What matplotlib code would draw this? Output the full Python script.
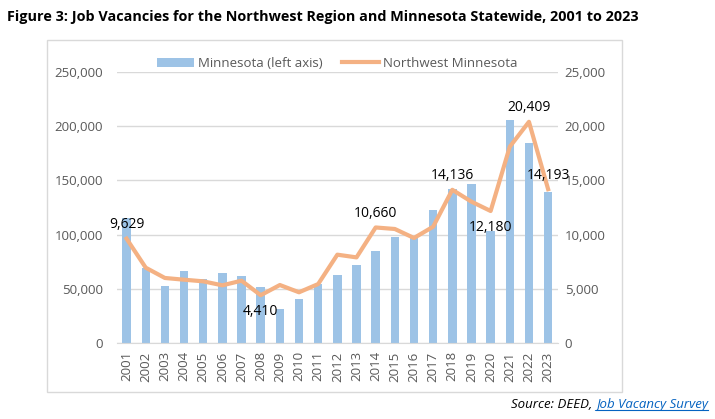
import matplotlib.pyplot as plt
from matplotlib.ticker import FuncFormatter
import numpy as np

years = [str(y) for y in range(2001, 2024)]
minnesota = [115000, 69500, 52600, 66400, 58700, 64600, 61800, 51700, 31400, 40600,
             54400, 62700, 72000, 84900, 97800, 96600, 122700, 142300, 146700, 103300,
             205700, 184500, 139600]
northwest = [9629, 6950, 6000, 5840, 5690, 5320, 5750, 4410, 5350, 4680,
             5440, 8150, 7900, 10660, 10520, 9690, 10730, 14136, 13040, 12180,
             18110, 20409, 14193]
# which points get a data label, and whether it sits above or below
labelled = {0: 'above', 7: 'below', 13: 'above', 17: 'above', 19: 'below', 21: 'above', 22: 'above'}

bar_color = '#9DC3E6'
line_color = '#F4B183'
tick_color = '#595959'
grid_color = '#D9D9D9'

plt.rcParams['font.family'] = ['Open Sans', 'DejaVu Sans']

fig = plt.figure(figsize=(7.15, 4.19), dpi=100)
ax = fig.add_axes([0.1636, 0.1814, 0.6164, 0.6466])
ax2 = ax.twinx()

x = np.arange(len(years))
bars = ax.bar(x, minnesota, width=0.44, color=bar_color, label='Minnesota (left axis)', zorder=2)
line, = ax2.plot(x, northwest, color=line_color, lw=3, label='Northwest Minnesota',
                 solid_joinstyle='round', zorder=3)

ax.set_ylim(0, 250000)
ax2.set_ylim(0, 25000)
ax.set_xlim(-0.5, len(years) - 0.5)
ax.set_yticks(range(0, 250001, 50000))
ax2.set_yticks(range(0, 25001, 5000))
fmt = FuncFormatter(lambda v, p: f'{int(v):,}')
ax.yaxis.set_major_formatter(fmt)
ax2.yaxis.set_major_formatter(fmt)
ax.set_xticks(x)
ax.set_xticklabels(years, rotation=90)

ax.grid(axis='y', color=grid_color, lw=1, zorder=0)
ax.set_axisbelow(True)
for a in (ax, ax2):
    for s in a.spines.values():
        s.set_visible(False)
    a.tick_params(length=0, colors=tick_color, labelsize=9.5)
ax.spines['bottom'].set_visible(True)
ax.spines['bottom'].set_color(grid_color)
ax.tick_params(axis='y', pad=10)
ax2.tick_params(axis='y', pad=5)
ax.tick_params(axis='x', pad=6)

for i, pos in labelled.items():
    dy = 10 if pos == 'above' else -12
    ax2.annotate(f'{northwest[i]:,}', (x[i], northwest[i]), xytext=(0, dy),
                 textcoords='offset points', ha='center', va='center', fontsize=10, color='black')

ax.legend([bars, line], ['Minnesota (left axis)', 'Northwest Minnesota'], loc='upper center',
          bbox_to_anchor=(0.5, 1.10), ncol=2, frameon=False, fontsize=9.5,
          labelcolor=tick_color, handlelength=2.8, columnspacing=1.5, handletextpad=0.3)

# outer chart border
fig.patches.append(plt.Rectangle((47 / 715, 1 - 392 / 419), (622 - 47) / 715, (392 - 40) / 419,
                                 transform=fig.transFigure, fill=False, ec=grid_color, lw=1))

fig.text(7 / 715, 1 - 17 / 419, 'Figure 3: Job Vacancies for the Northwest Region and Minnesota Statewide, 2001 to 2023',
         fontsize=10.4, fontweight='bold', va='center', ha='left')
src = fig.text(0.99, 1 - 404 / 419, 'Job Vacancy Survey', fontsize=9.5, style='italic',
               color='#0563C1', ha='right', va='center')
fig.canvas.draw()
bb = src.get_window_extent()
fig.text(bb.x0 / 715, 1 - 404 / 419, 'Source: DEED, ', fontsize=9.5, style='italic',
         color='black', ha='right', va='center')
fig.add_artist(plt.Line2D([bb.x0 / 715, bb.x1 / 715], [(bb.y0 + 1) / 419] * 2,
                          color='#0563C1', lw=0.8, transform=fig.transFigure))

fig.savefig('out.png', dpi=100)
